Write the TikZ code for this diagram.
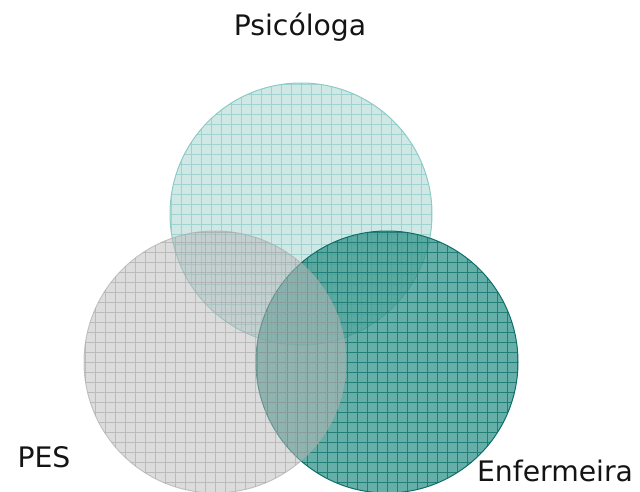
\documentclass[tikz,border=0pt]{standalone}
\usepackage{fontspec}
\setmainfont{DejaVu Sans}
\definecolor{topfill}{HTML}{CFE8E6}
\definecolor{topline}{HTML}{9FD3CF}
\definecolor{topborder}{HTML}{8CCBC6}
\definecolor{leftfill}{HTML}{B9B9B9}
\definecolor{leftline}{HTML}{A0A0A0}
\definecolor{leftborder}{HTML}{A8A8A8}
\definecolor{rightfill}{HTML}{33948B}
\definecolor{rightline}{HTML}{1C7B73}
\definecolor{rightborder}{HTML}{0F6F68}
\tikzset{
  venn/.style={circle, inner sep=0pt, minimum size=196.5pt, line width=0.75pt},
  gridfill/.style={path picture={
      \draw[#1, line width=0.6pt]
        ([shift={(-8pt,-8pt)}]path picture bounding box.south west)
        grid[step=7.5pt]
        ([shift={(8pt,8pt)}]path picture bounding box.north east);}},
  label/.style={font=\fontsize{21.2pt}{25pt}\selectfont, text=black!92, inner sep=0pt, anchor=base}
}
\begin{document}
\begin{tikzpicture}[x=0.75pt,y=-0.75pt]
\useasboundingbox (0,0) rectangle (640,492);
\node[venn, fill=topfill, draw=topborder, gridfill=topline] (psi) at (301,214) {};
\node[venn, fill=rightfill, fill opacity=0.75, draw=rightborder, gridfill={rightline, draw opacity=0.9}] (enf) at (387,362) {};
\node[venn, fill=leftfill, fill opacity=0.5, draw=leftborder, draw opacity=0.6, gridfill={leftline, draw opacity=0.55}] (pes) at (215,362) {};
\node[label] (tpsi) at (300,36) {Psicóloga};
\node[label] (tpes) at (44,467) {PES};
\node[label] (tenf) at (555,481) {Enfermeira};
\end{tikzpicture}
\end{document}
